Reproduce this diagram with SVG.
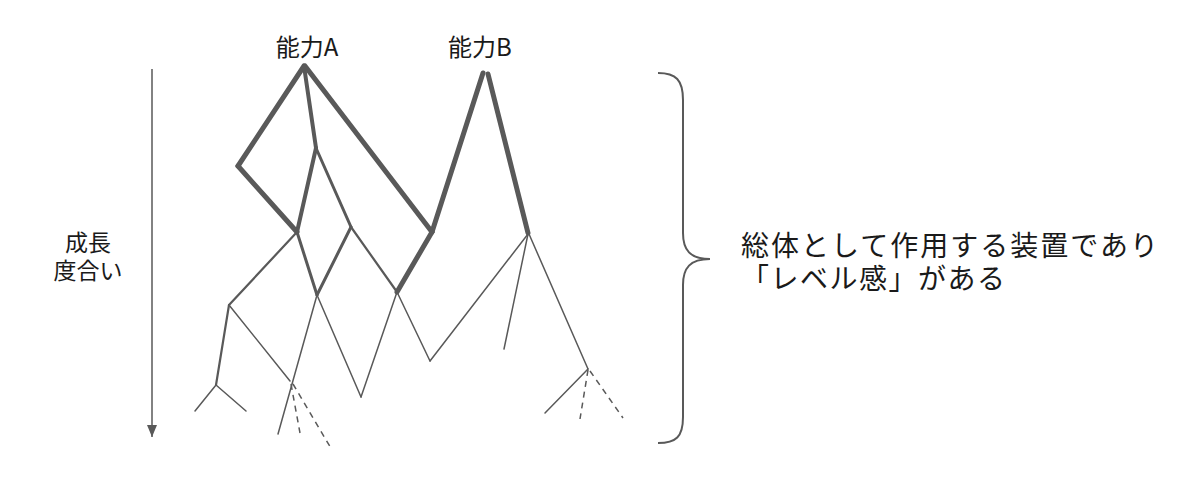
<svg xmlns="http://www.w3.org/2000/svg" width="1200" height="491" viewBox="0 0 1200 491">
<defs>
<style>
.t{font-family:"Noto Sans CJK JP","Noto Sans",sans-serif;fill:#1a1a1a}
.e{stroke:#595959;fill:none;stroke-linecap:round;stroke-linejoin:round}
.w5{stroke-width:5}
.w4{stroke-width:4}
.w3{stroke-width:3}
.w2{stroke-width:2.2}
.w1{stroke-width:1.5}
.d{stroke-dasharray:6 5;stroke-linecap:butt}
</style>
<marker id="ah" markerWidth="12" markerHeight="10" refX="12" refY="5" orient="auto" markerUnits="userSpaceOnUse" viewBox="0 0 12 10">
<path d="M0,0 L12,5 L0,10 Z" fill="#595959"/>
</marker>
</defs>
<rect width="1200" height="491" fill="#fff"/>
<g id="label-a"><text class="t" x="307" y="56" font-size="24" text-anchor="middle">能力A</text></g>
<g id="label-b"><text class="t" x="480" y="56" font-size="24" text-anchor="middle">能力B</text></g>
<g id="axis">
<line x1="152" y1="69" x2="152" y2="437" stroke="#595959" stroke-width="1.5" marker-end="url(#ah)"/>
<text class="t" x="88" y="251" font-size="23" text-anchor="middle">成長</text>
<text class="t" x="88" y="279" font-size="23" text-anchor="middle">度合い</text>
</g>
<g id="brace">
<path d="M658,73 C676,73 683,80 683,100 L683,233 C683,250 690,259 710,259 C690,259 683,268 683,285 L683,417 C683,437 676,443 658,443" fill="none" stroke="#595959" stroke-width="2"/>
</g>
<g id="summary">
<text class="t" x="741" y="256" font-size="28" letter-spacing="2">総体として作用する装置であり</text>
<text class="t" x="741" y="289" font-size="28" letter-spacing="1.5">「レベル感」がある</text>
</g>
<g id="connectors">
<line class="e w5" x1="304" y1="66" x2="238" y2="166"/>
<line class="e w5" x1="238" y1="166" x2="297" y2="232"/>
<line class="e w4" x1="304" y1="66" x2="316" y2="148"/>
<line class="e w4" x1="316" y1="148" x2="297" y2="232"/>
<line class="e w3" x1="316" y1="148" x2="351" y2="227"/>
<line class="e w5" x1="305" y1="66" x2="432" y2="232"/>
<line class="e w5" x1="483" y1="73" x2="432" y2="232"/>
<line class="e w5" x1="488" y1="74" x2="528" y2="233"/>
<line class="e w3" x1="297" y1="232" x2="317" y2="295"/>
<line class="e w3" x1="351" y1="227" x2="317" y2="295"/>
<line class="e w2" x1="351" y1="227" x2="397" y2="292"/>
<line class="e w5" x1="432" y1="232" x2="397" y2="292"/>
<line class="e w2" x1="297" y1="232" x2="229" y2="305"/>
<line class="e w2" x1="229" y1="305" x2="216" y2="385"/>
<line class="e w1" x1="216" y1="385" x2="195" y2="411"/>
<line class="e w1" x1="216" y1="385" x2="246" y2="411"/>
<line class="e w1" x1="229" y1="305" x2="290" y2="381"/>
<line class="e w1" x1="317" y1="295" x2="278" y2="434"/>
<line class="e w1 d" x1="291" y1="384" x2="300" y2="433"/>
<line class="e w1 d" x1="293" y1="384" x2="332" y2="450"/>
<line class="e w1" x1="317" y1="295" x2="361" y2="397"/>
<line class="e w1" x1="361" y1="397" x2="397" y2="292"/>
<line class="e w1" x1="397" y1="292" x2="430" y2="361"/>
<line class="e w1" x1="430" y1="361" x2="528" y2="234"/>
<line class="e w1" x1="528" y1="234" x2="504" y2="349"/>
<line class="e w1" x1="529" y1="234" x2="588" y2="369"/>
<line class="e w1" x1="588" y1="369" x2="545" y2="413"/>
<line class="e w1 d" x1="588" y1="370" x2="580" y2="419"/>
<line class="e w1 d" x1="590" y1="371" x2="623" y2="418"/>
</g>
</svg>
